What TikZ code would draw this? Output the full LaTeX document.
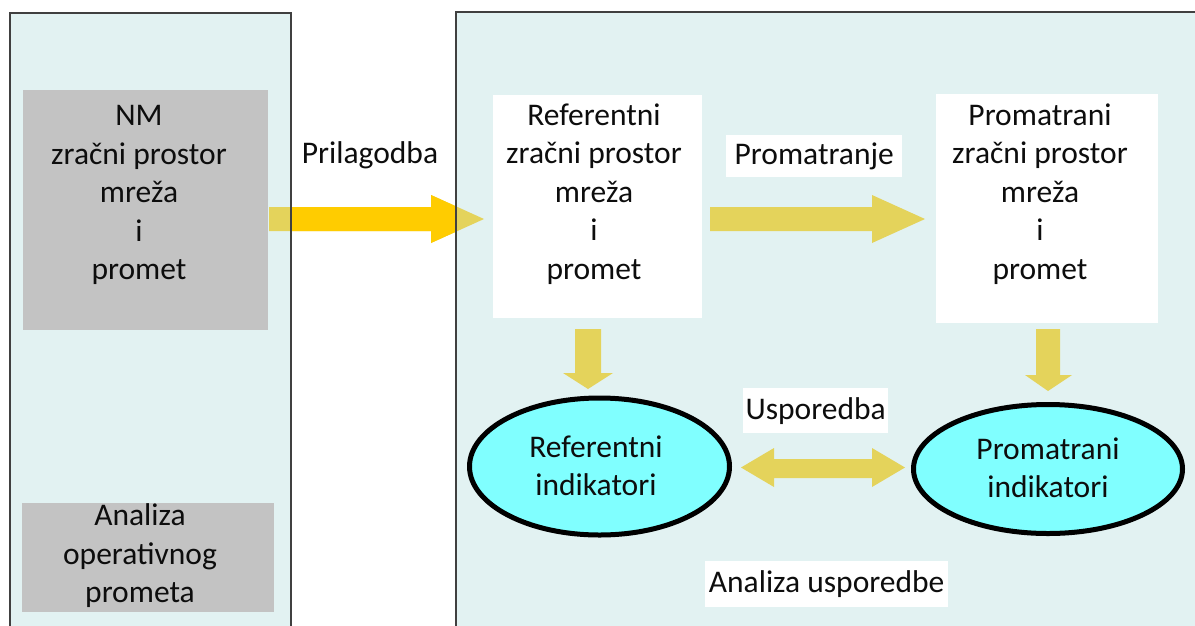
\documentclass[tikz,border=0pt]{standalone}
\usepackage{fontspec}
\setmainfont{Carlito}
\usetikzlibrary{shapes.geometric}
\definecolor{panelfill}{HTML}{E2F2F2}
\definecolor{panelline}{HTML}{404040}
\definecolor{grayfill}{HTML}{C3C3C3}
\definecolor{mutedgold}{HTML}{E4D35B}
\definecolor{gold}{HTML}{FFCC00}
\definecolor{cyanfill}{HTML}{80FFFF}
\definecolor{ink}{HTML}{0D0D0D}
\begin{document}
\begin{tikzpicture}[x=1pt,y=-1pt,
  txt/.style={font=\fontsize{31.5}{38.5}\selectfont, text=ink, align=center, inner sep=0pt},
  boxbase/.style={anchor=north west, inner sep=0pt, draw=none},
  graybox/.style={boxbase, fill=grayfill},
  whitebox/.style={boxbase, fill=white},
  indic/.style={ellipse, draw=black, line width=5pt, fill=cyanfill, inner sep=0pt},
  blockarrow/.style={fill=mutedgold},
  panelborder/.style={draw=panelline, line width=1.3pt}]
\useasboundingbox (0,0) rectangle (1195,625);
\clip (0,0) rectangle (1195,625);
% panels
\fill[panelfill] (10,13) rectangle (291,640);
\fill[panelfill] (456,12) rectangle (1210,640);
% big arrow (Prilagodba)
\fill[blockarrow] (269,207) -- (431,207) -- (431,195) -- (484,219) -- (431,243) -- (431,231) -- (269,231) -- cycle;
\begin{scope}
\clip (291,0) rectangle (456,625);
\fill[gold] (269,207) -- (431,207) -- (431,195) -- (484,219) -- (431,243) -- (431,231) -- (269,231) -- cycle;
\end{scope}
\draw[panelborder] (10,640) -- (10,13) -- (291,13) -- (291,640);
\draw[panelborder] (456,640) -- (456,12) -- (1210,12);
% left panel boxes
\node[graybox, minimum width=245pt, minimum height=240pt] (nm) at (23,90) {};
\node[graybox, minimum width=252pt, minimum height=109pt] (aop) at (22,503) {};
\node[txt] (nmtxt) at (139,195) {NM\\zračni prostor\\mreža\\i\\promet};
\node[txt] (aoptxt) at (140,556) {Analiza\\operativnog\\prometa};
\node[txt] (pril) at (370,155) {Prilagodba};
% right panel boxes
\node[whitebox, minimum width=209pt, minimum height=223pt] (ref) at (493,95) {};
\node[whitebox, minimum width=222pt, minimum height=229pt] (prom) at (936,94) {};
\node[whitebox, minimum width=176pt, minimum height=42pt] (promlbl) at (726,135) {};
\node[whitebox, minimum width=145pt, minimum height=45pt] (uspbox) at (743,388) {};
\node[whitebox, minimum width=243pt, minimum height=46pt] (anbox) at (705,561) {};
\node[txt] (reftxt) at (594,194) {Referentni\\zračni prostor\\mreža\\i\\promet};
\node[txt] (promtxt) at (1040,194) {Promatrani\\zračni prostor\\mreža\\i\\promet};
\node[txt] at (promlbl.center) {Promatranje};
\node[txt] at (uspbox.center) {Usporedba};
\node[txt] at (anbox.center) {Analiza usporedbe};
% arrows
\fill[blockarrow] (710,207) -- (872,207) -- (872,195) -- (925,219) -- (872,243) -- (872,231) -- (710,231) -- cycle;
\fill[blockarrow] (575,329) -- (601,329) -- (601,373) -- (613,373) -- (588,389) -- (563,373) -- (575,373) -- cycle;
\fill[blockarrow] (1036,329) -- (1060,329) -- (1060,375) -- (1072,375) -- (1048,391) -- (1025,375) -- (1036,375) -- cycle;
\fill[blockarrow] (741,467.5) -- (774,448) -- (774,459) -- (872,459) -- (872,448) -- (905,467.5) -- (872,487) -- (872,478) -- (774,478) -- (774,487) -- cycle;
% ellipses
\node[indic, minimum width=260pt, minimum height=137pt] (refind) at (599.5,466.5) {};
\node[indic, minimum width=269pt, minimum height=129pt] (promind) at (1048,469) {};
\node[txt] at (596,466) {Referentni\\indikatori};
\node[txt] at (1048,468) {Promatrani\\indikatori};
\end{tikzpicture}
\end{document}
